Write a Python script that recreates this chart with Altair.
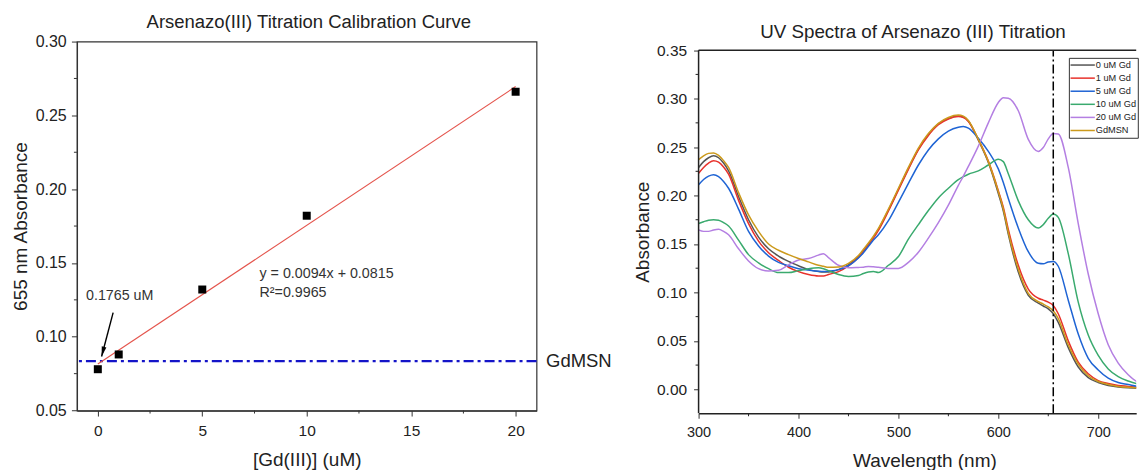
import altair as alt
import pandas as pd

# ---------------- Left panel: calibration curve ----------------
conc_uM = [0, 1, 5, 10, 20]
abs_655 = [0.078, 0.088, 0.132, 0.182, 0.266]
fit_conc = [0, 20]
fit_abs = [0.0815, 0.2695]
gdmsn_abs = 0.0835
left_x_major = [0, 5, 10, 15, 20]
left_x_minor = [2.5, 7.5, 12.5, 17.5]
left_y_major = [0.05, 0.10, 0.15, 0.20, 0.25, 0.30]
left_y_minor = [0.075, 0.125, 0.175, 0.225, 0.275]

# ---------------- Right panel: UV spectra ----------------
wavelength = [300, 305, 310, 315, 320, 325, 330, 340, 350, 360, 370, 380, 390, 400,
              410, 420, 425, 430, 440, 450, 460, 465, 470, 475, 480, 490, 500, 510,
              520, 530, 540, 550, 560, 565, 570, 580, 590, 600, 605, 610, 620, 630,
              640, 645, 650, 655, 660, 670, 680, 690, 700, 710, 720, 730, 740, 750]
abs_0uM = [0.229, 0.235, 0.239, 0.241, 0.239, 0.2335, 0.2255, 0.199, 0.175, 0.157, 0.145, 0.1375, 0.132, 0.1275,
           0.1235, 0.1215, 0.121, 0.121, 0.1235, 0.1285, 0.137, 0.143, 0.150, 0.157, 0.165, 0.185, 0.2065, 0.228,
           0.248, 0.263, 0.274, 0.2795, 0.282, 0.281, 0.277, 0.257, 0.234, 0.202, 0.184, 0.160, 0.121, 0.097,
           0.089, 0.086, 0.083, 0.078, 0.069, 0.043, 0.023, 0.012, 0.007, 0.004, 0.0025, 0.0015, 0.001, 0.001]
abs_1uM = [0.223, 0.229, 0.2335, 0.236, 0.2345, 0.2295, 0.222, 0.195, 0.171, 0.153, 0.141, 0.133, 0.126, 0.1215,
           0.1185, 0.117, 0.117, 0.1185, 0.1215, 0.1275, 0.136, 0.142, 0.149, 0.156, 0.164, 0.184, 0.2055, 0.227,
           0.247, 0.262, 0.273, 0.279, 0.2815, 0.2805, 0.2765, 0.258, 0.2355, 0.205, 0.188, 0.165, 0.128, 0.1035,
           0.094, 0.092, 0.090, 0.0865, 0.078, 0.050, 0.028, 0.016, 0.009, 0.006, 0.004, 0.003, 0.002, 0.0015]
abs_5uM = [0.211, 0.2165, 0.220, 0.2215, 0.2195, 0.2145, 0.2075, 0.186, 0.163, 0.148, 0.1375, 0.131, 0.1275, 0.1245,
           0.123, 0.1218, 0.1215, 0.122, 0.1235, 0.1275, 0.1355, 0.141, 0.1475, 0.154, 0.1595, 0.174, 0.193, 0.2125,
           0.2315, 0.247, 0.2585, 0.2665, 0.2705, 0.2712, 0.2695, 0.259, 0.2455, 0.2275, 0.2135, 0.197, 0.1665, 0.142,
           0.130, 0.1295, 0.1315, 0.132, 0.127, 0.092, 0.057, 0.032, 0.020, 0.0115, 0.007, 0.005, 0.003, 0.002]
abs_10uM = [0.1712, 0.173, 0.1745, 0.175, 0.1745, 0.172, 0.1685, 0.154, 0.139, 0.1305, 0.1245, 0.1205, 0.1205, 0.1225,
            0.1245, 0.1255, 0.1245, 0.1225, 0.1185, 0.1165, 0.1175, 0.1195, 0.121, 0.1215, 0.1205, 0.128, 0.137, 0.155,
            0.170, 0.1845, 0.1975, 0.2075, 0.2165, 0.2195, 0.222, 0.2255, 0.2315, 0.2375, 0.235, 0.2225, 0.1945, 0.175,
            0.1665, 0.170, 0.1765, 0.181, 0.1775, 0.140, 0.090, 0.056, 0.035, 0.021, 0.013, 0.0085, 0.0055, 0.004]
abs_20uM = [0.1645, 0.163, 0.163, 0.1645, 0.1652, 0.163, 0.1595, 0.145, 0.1325, 0.1245, 0.122, 0.1228, 0.1285, 0.1335,
            0.135, 0.1385, 0.140, 0.136, 0.128, 0.1255, 0.1258, 0.126, 0.1268, 0.1265, 0.126, 0.1248, 0.1248, 0.131,
            0.1415, 0.156, 0.172, 0.190, 0.2105, 0.220, 0.230, 0.251, 0.275, 0.296, 0.301, 0.3005, 0.2875, 0.258,
            0.2455, 0.2495, 0.2585, 0.264, 0.2635, 0.229, 0.171, 0.119, 0.078, 0.046, 0.027, 0.015, 0.0072, 0.005]
abs_gdmsn = [0.237, 0.241, 0.2435, 0.244, 0.2415, 0.236, 0.229, 0.203, 0.180, 0.163, 0.150, 0.1435, 0.139, 0.135,
             0.1315, 0.128, 0.127, 0.126, 0.1262, 0.130, 0.138, 0.1445, 0.151, 0.158, 0.166, 0.186, 0.2075, 0.229,
             0.249, 0.264, 0.2745, 0.2805, 0.283, 0.282, 0.2775, 0.258, 0.235, 0.204, 0.186, 0.162, 0.124, 0.099,
             0.0905, 0.088, 0.085, 0.081, 0.073, 0.046, 0.026, 0.014, 0.008, 0.005, 0.003, 0.002, 0.0015, 0.001]
series_names = ["0 uM Gd", "1 uM Gd", "5 uM Gd", "10 uM Gd", "20 uM Gd", "GdMSN"]
series_values = [abs_0uM, abs_1uM, abs_5uM, abs_10uM, abs_20uM, abs_gdmsn]
series_colors = ["#555555", "#e8322c", "#1f64d4", "#3aaa6e", "#b47fe2", "#cc9a1c"]
series_widths = [1.5, 1.5, 2.2, 1.5, 1.5, 2.6]
marker_nm = 655
right_x_major = [300, 400, 500, 600, 700]
right_x_minor = [350, 450, 550, 650]
right_y_major = [0.0, 0.05, 0.10, 0.15, 0.20, 0.25, 0.30, 0.35]
right_y_minor = [0.025, 0.075, 0.125, 0.175, 0.225, 0.275, 0.325]

FONT = "Liberation Sans"
TXT = "#222222"
AX = "#333333"

# ======================= LEFT =======================
LW, LH = 460, 369.3
lxs = alt.Scale(domain=[-1, 21], nice=False, zero=False)
lys = alt.Scale(domain=[0.05, 0.30], nice=False, zero=False)
lx_axis = alt.Axis(values=left_x_major, title="[Gd(III)] (uM)", titleFontSize=19,
                   titleY=49, titleBaseline="middle", labelFontSize=15.5,
                   tickSize=5.5, labelPadding=7, format="d", labelFlush=False)
ly_axis = alt.Axis(values=left_y_major, title="655 nm Absorbance", titleFontSize=19,
                   titleX=-56, titleY=LH / 2, titleAlign="center", titleBaseline="middle",
                   labelFontSize=16, tickSize=5.5, labelPadding=5.2, format=".2f")


def LX(f="x"):
    return alt.X(f + ":Q", scale=lxs, axis=lx_axis)


def LY(f="y"):
    return alt.Y(f + ":Q", scale=lys, axis=ly_axis)


pts_df = pd.DataFrame({"x": conc_uM, "y": abs_655})
fit_df = pd.DataFrame({"x": fit_conc, "y": fit_abs})

fit_line = alt.Chart(fit_df).mark_line(color="#e4544c", strokeWidth=1.1).encode(x=LX(), y=LY())
gd_rule = alt.Chart(pd.DataFrame({"y": [gdmsn_abs]})).mark_rule(
    color="#1414c8", strokeWidth=2.4, strokeDash=[10, 4, 3, 4]).encode(y=LY())
points = alt.Chart(pts_df).mark_square(size=64, color="black", opacity=1).encode(x=LX(), y=LY())

arrow_df = pd.DataFrame({"x": [0.733], "y": [0.1163], "x2": [0.18], "y2": [0.0866]})
arrow_line = alt.Chart(arrow_df).mark_rule(color="black", strokeWidth=1.4).encode(
    x=LX(), y=LY(), x2="x2:Q", y2="y2:Q")
arrow_head = alt.Chart(pd.DataFrame({"x": [0.18], "y": [0.0866]})).mark_point(
    shape="M0,0L-0.8,-3.3L0.8,-3.3Z", size=36, filled=True, color="black", opacity=1,
    angle=14.6).encode(x=LX(), y=LY())

txt_df = pd.DataFrame({
    "x": [7.74, 7.74, -0.566],
    "y": [0.1425, 0.1297, 0.1278],
    "t": ["y = 0.0094x + 0.0815", "R\u00b2=0.9965", "0.1765 uM"],
})
ann = alt.Chart(txt_df).mark_text(align="left", baseline="middle", font=FONT, fontSize=14.3,
                                   color="#333333").encode(x=LX(), y=LY(), text="t:N")
gd_lab = alt.Chart(pd.DataFrame({"x": [21], "y": [gdmsn_abs], "t": ["GdMSN"]})).mark_text(
    align="left", baseline="middle", font=FONT, fontSize=18.5, color=TXT, dx=9.5, clip=False
).encode(x=LX(), y=LY(), text="t:N")

lminx = alt.Chart(pd.DataFrame({"x": left_x_minor})).mark_rule(color=AX, strokeWidth=1).encode(
    x=LX(), y=alt.value(LH), y2=alt.value(LH + 3))
lminy = alt.Chart(pd.DataFrame({"y": left_y_minor})).mark_rule(color=AX, strokeWidth=1).encode(
    y=LY(), x=alt.value(0), x2=alt.value(-3))

left = alt.layer(gd_rule, fit_line, points, arrow_line, arrow_head, ann, gd_lab, lminx, lminy).properties(
    width=LW, height=LH,
    view=alt.ViewBackground(stroke=AX, strokeWidth=1.2),
    title=alt.TitleParams("Arsenazo(III) Titration Calibration Curve", font=FONT, fontSize=18.5,
                          fontWeight="normal", color=TXT, baseline="alphabetic", offset=-13.3,
                          frame="group", anchor="middle", dx=2),
)

# ======================= RIGHT =======================
RW, RH = 438, 372
XMAX = 738
YMIN, YTOP, YMAX = -0.0247, 0.35, 0.3589
rxs = alt.Scale(domain=[300, XMAX], nice=False, zero=False)
rys = alt.Scale(domain=[YMIN, YMAX], nice=False, zero=False)
rx_axis = alt.Axis(values=right_x_major, title="Wavelength (nm)", titleFontSize=19,
                   titleX=226, titleY=47.5, titleBaseline="middle", labelFontSize=14.5,
                   tickSize=5, labelPadding=7.5, format="d", domainWidth=1.5, domainColor=TXT,
                   labelFlush=False)
ry_axis = alt.Axis(values=right_y_major, title="Absorbance", titleFontSize=19,
                   titleX=-55.7, titleY=190.3, titleAlign="center", titleBaseline="middle",
                   labelFontSize=15.5, tickSize=5, labelPadding=7, format=".2f", domain=False)


def RX(f="nm"):
    return alt.X(f + ":Q", scale=rxs, axis=rx_axis)


def RY(f="A"):
    return alt.Y(f + ":Q", scale=rys, axis=ry_axis)


rows = []
for name, vals in zip(series_names, series_values):
    for w, a in zip(wavelength, vals):
        rows.append({"nm": w, "A": a, "series": name})
spec_df = pd.DataFrame(rows)

# legend placement is relative to the left panel's plot origin (top-level group)
LEG = alt.Legend(title=None, orient="none", legendX=992.8, legendY=16.3, direction="vertical",
                 symbolType="M-1.15,0H3.92", symbolSize=92, labelOffset=13.7,
                 labelFont=FONT, labelFontSize=9.2, labelColor=TXT, padding=1.2, rowPadding=1.1,
                 strokeColor="#333333", fillColor="white")

lines = alt.Chart(spec_df).mark_line(interpolate="monotone", clip=True).encode(
    x=RX(), y=RY(),
    color=alt.Color("series:N", scale=alt.Scale(domain=series_names, range=series_colors), legend=LEG),
    strokeWidth=alt.StrokeWidth("series:N", scale=alt.Scale(domain=series_names, range=series_widths),
                                legend=LEG),
)

vline = alt.Chart(pd.DataFrame({"nm": [marker_nm], "A": [YMIN], "A2": [YTOP]})).mark_rule(
    color="black", strokeWidth=1.5, strokeDash=[9, 3, 2, 3]).encode(x=RX(), y=RY(), y2="A2:Q")
top_border = alt.Chart(pd.DataFrame({"nm": [300], "nm2": [XMAX], "A": [YTOP]})).mark_rule(
    color=TXT, strokeWidth=1.5).encode(x=RX(), x2="nm2:Q", y=RY())
left_border = alt.Chart(pd.DataFrame({"nm": [300], "A": [YMIN], "A2": [YTOP]})).mark_rule(
    color=TXT, strokeWidth=1.5).encode(x=RX(), y=RY(), y2="A2:Q")
rminx = alt.Chart(pd.DataFrame({"nm": right_x_minor})).mark_rule(color=TXT, strokeWidth=1).encode(
    x=RX(), y=alt.value(RH), y2=alt.value(RH + 3))
rminy = alt.Chart(pd.DataFrame({"A": right_y_minor})).mark_rule(color=TXT, strokeWidth=1).encode(
    y=RY(), x=alt.value(0), x2=alt.value(-3))

right = alt.layer(lines, vline, top_border, left_border, rminx, rminy).properties(
    width=RW, height=RH,
    view=alt.ViewBackground(stroke="transparent"),
    title=alt.TitleParams("UV Spectra of Arsenazo (III) Titration", font=FONT, fontSize=18.8,
                          fontWeight="normal", color=TXT, baseline="alphabetic", offset=-14.9,
                          frame="group", anchor="middle", dx=-4.4),
)

chart = alt.hconcat(left, right, spacing=162.2, bounds="flush").properties(
    padding={"left": 11, "top": 12.4, "right": 0, "bottom": 0}
).configure(background="white").configure_axis(
    grid=False, labelFont=FONT, titleFont=FONT, titleFontWeight="normal",
    labelColor=TXT, titleColor=TXT, tickColor=AX, domainColor=AX, tickWidth=1, domainWidth=1.2
)

chart.save("out.html", embed_options={"renderer": "svg", "actions": False})
